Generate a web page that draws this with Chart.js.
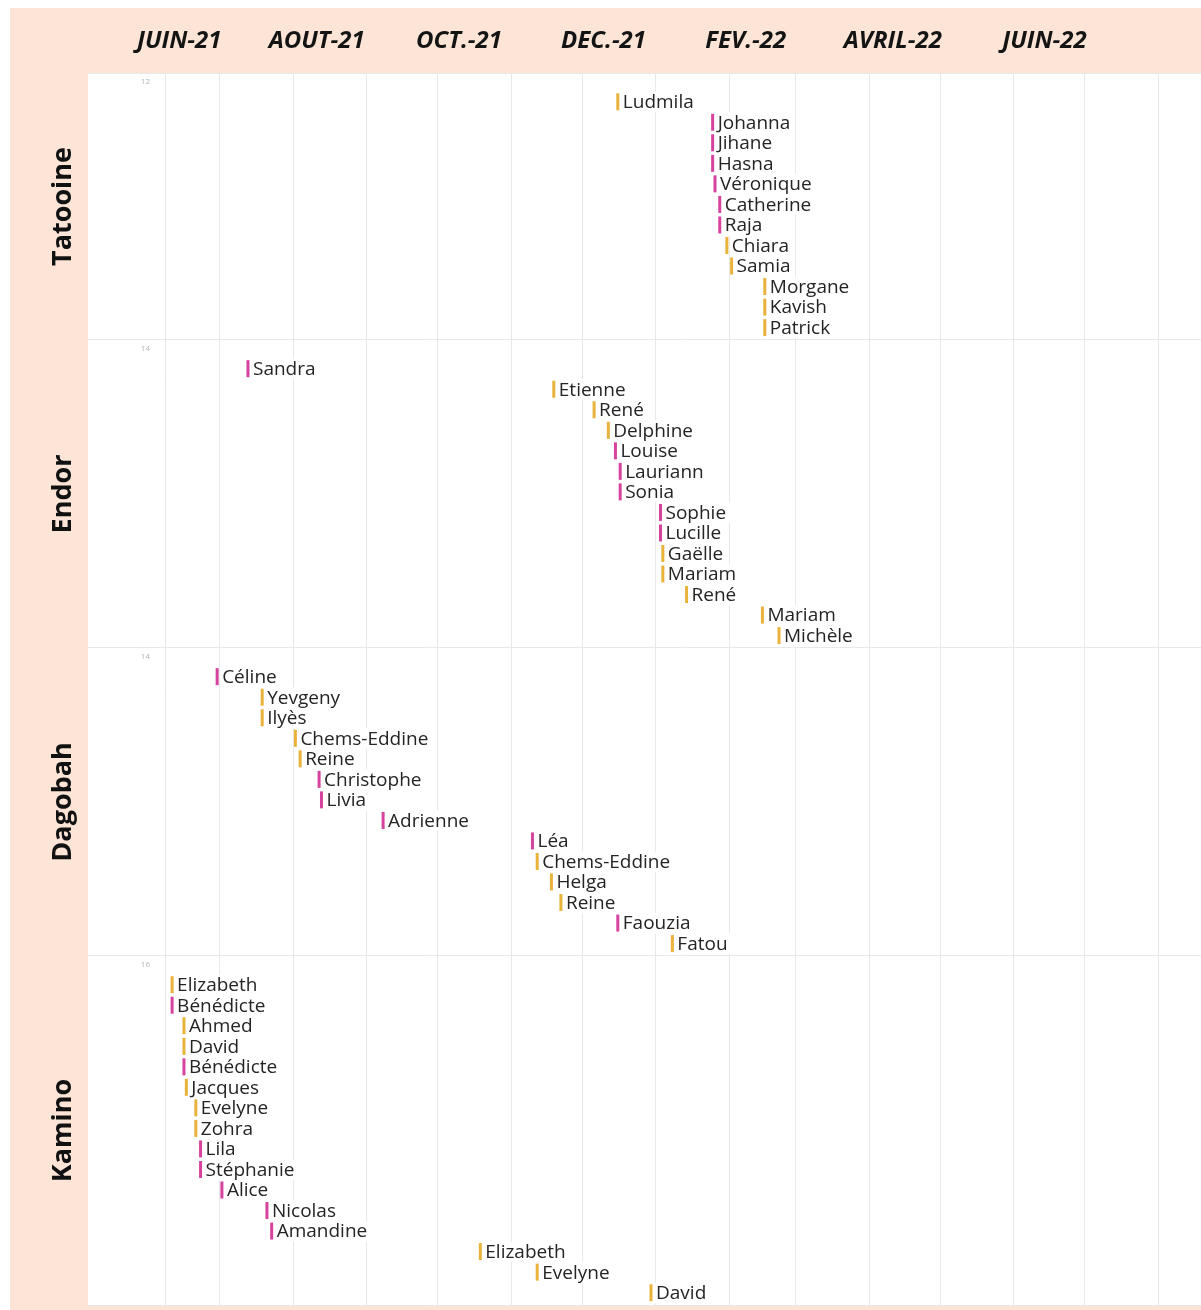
<!DOCTYPE html>
<html>
<head>
<meta charset="utf-8">
<script src="https://cdn.jsdelivr.net/npm/chart.js@4.4.1/dist/chart.umd.min.js"></script>
<style>
  body { margin: 0; background: #fff; }
  #wrap { position: absolute; left: 10px; top: 8px; width: 1191px; height: 1302px; background: #fce4d6; }
</style>
</head>
<body>
<div id="wrap"><canvas id="myChart"></canvas></div>
<script>
const panelNames = ['Tatooine', 'Endor', 'Dagobah', 'Kamino'];

const tatooineNames = ['Ludmila', 'Johanna', 'Jihane', 'Hasna', 'Véronique', 'Catherine', 'Raja', 'Chiara', 'Samia', 'Morgane', 'Kavish', 'Patrick'];
const tatooineDates = ['2021-12-16', '2022-01-25', '2022-01-25', '2022-01-25', '2022-01-26', '2022-01-28', '2022-01-28', '2022-01-31', '2022-02-02', '2022-02-16', '2022-02-16', '2022-02-16'];
const tatooineKinds = ['o', 'p', 'p', 'p', 'p', 'p', 'p', 'o', 'o', 'o', 'o', 'o'];

const endorNames = ['Sandra', 'Etienne', 'René', 'Delphine', 'Louise', 'Lauriann', 'Sonia', 'Sophie', 'Lucille', 'Gaëlle', 'Mariam', 'René', 'Mariam', 'Michèle'];
const endorDates = ['2021-07-13', '2021-11-19', '2021-12-06', '2021-12-12', '2021-12-15', '2021-12-17', '2021-12-17', '2022-01-03', '2022-01-03', '2022-01-04', '2022-01-04', '2022-01-14', '2022-02-15', '2022-02-22'];
const endorKinds = ['p', 'o', 'o', 'o', 'p', 'p', 'p', 'p', 'p', 'o', 'o', 'o', 'o', 'o'];

const dagobahNames = ['Céline', 'Yevgeny', 'Ilyès', 'Chems-Eddine', 'Reine', 'Christophe', 'Livia', 'Adrienne', 'Léa', 'Chems-Eddine', 'Helga', 'Reine', 'Faouzia', 'Fatou'];
const dagobahDates = ['2021-06-30', '2021-07-19', '2021-07-19', '2021-08-02', '2021-08-04', '2021-08-12', '2021-08-13', '2021-09-08', '2021-11-10', '2021-11-12', '2021-11-18', '2021-11-22', '2021-12-16', '2022-01-08'];
const dagobahKinds = ['p', 'o', 'o', 'o', 'o', 'p', 'p', 'p', 'p', 'o', 'o', 'o', 'p', 'o'];

const kaminoNames = ['Elizabeth', 'Bénédicte', 'Ahmed', 'David', 'Bénédicte', 'Jacques', 'Evelyne', 'Zohra', 'Lila', 'Stéphanie', 'Alice', 'Nicolas', 'Amandine', 'Elizabeth', 'Evelyne', 'David'];
const kaminoDates = ['2021-06-11', '2021-06-11', '2021-06-16', '2021-06-16', '2021-06-16', '2021-06-17', '2021-06-21', '2021-06-21', '2021-06-23', '2021-06-23', '2021-07-02', '2021-07-21', '2021-07-23', '2021-10-19', '2021-11-12', '2021-12-30'];
const kaminoKinds = ['o', 'p', 'o', 'o', 'p', 'o', 'o', 'o', 'p', 'p', 'p', 'p', 'p', 'o', 'o', 'o'];

// top header labels and grid (month starts)
const headerLabels = ['JUIN-21', 'AOUT-21', 'OCT.-21', 'DEC.-21', 'FEV.-22', 'AVRIL-22', 'JUIN-22'];
const headerDates = ['2021-06-14', '2021-08-11', '2021-10-10', '2021-12-10', '2022-02-08', '2022-04-11', '2022-06-14'];
const monthStarts = ['2021-07-01', '2021-08-01', '2021-09-01', '2021-10-01', '2021-11-01', '2021-12-01', '2022-01-01', '2022-02-01', '2022-03-01', '2022-04-01', '2022-05-01', '2022-06-01', '2022-07-01', '2022-08-01'];
const xMinDate = '2021-06-08';
const xMaxDate = '2022-08-19';

const PINK = '#d6439f';
const ORANGE = '#e9b23a';
const FONT = '"Open Sans", "Noto Sans", sans-serif';

const day = s => Date.UTC(+s.slice(0, 4), +s.slice(5, 7) - 1, +s.slice(8, 10)) / 86400000;

const panels = [
    [tatooineNames, tatooineDates, tatooineKinds],
    [endorNames, endorDates, endorKinds],
    [dagobahNames, dagobahDates, dagobahKinds],
    [kaminoNames, kaminoDates, kaminoKinds],
];

// panel edges on the y scale: each panel takes its row count + 1
const edges = [0];
panels.forEach(p => edges.push(edges[edges.length - 1] + p[0].length + 1));
const counts = panels.map(p => String(p[0].length));

const pinkPts = [];
const orangePts = [];
panels.forEach((p, pi) => {
    p[0].forEach((name, i) => {
        const pt = { x: day(p[1][i]), y: edges[pi] + 1.4 + i, name: name };
        (p[2][i] === 'p' ? pinkPts : orangePts).push(pt);
    });
});

const noPad = s => { s.paddingLeft = 0; s.paddingRight = 0; s.paddingTop = 0; s.paddingBottom = 0; };

const plotBg = {
    id: 'plotBg',
    beforeDraw(chart) {
        const { ctx, chartArea, scales } = chart;
        ctx.save();
        ctx.fillStyle = '#fff';
        ctx.fillRect(scales.y.left, chartArea.top, chartArea.right - scales.y.left, chartArea.bottom - chartArea.top);
        ctx.restore();
    }
};

const nameLabels = {
    id: 'nameLabels',
    beforeDatasetsDraw(chart) {
        const ctx = chart.ctx;
        ctx.save();
        ctx.font = '19px ' + FONT;
        ctx.fillStyle = '#fff';
        chart.data.datasets.forEach((ds, di) => {
            chart.getDatasetMeta(di).data.forEach((el, i) => {
                const w = ctx.measureText(ds.data[i].name).width;
                ctx.fillRect(el.x + 3, el.y - 10, w + 6, 20.5);
            });
        });
        ctx.restore();
    },
    afterDatasetsDraw(chart) {
        const ctx = chart.ctx;
        ctx.save();
        ctx.font = '19px ' + FONT;
        ctx.fillStyle = '#252423';
        ctx.textBaseline = 'middle';
        chart.data.datasets.forEach((ds, di) => {
            chart.getDatasetMeta(di).data.forEach((el, i) => {
                ctx.fillText(ds.data[i].name, el.x + 5, el.y + 1);
            });
        });
        ctx.restore();
    }
};

const panelTitles = {
    id: 'panelTitles',
    afterDraw(chart) {
        const ctx = chart.ctx;
        const y = chart.scales.y;
        ctx.save();
        ctx.font = 'bold 27px ' + FONT;
        ctx.fillStyle = '#111';
        ctx.textAlign = 'center';
        ctx.textBaseline = 'middle';
        panelNames.forEach((name, i) => {
            const py = y.getPixelForValue((edges[i] + edges[i + 1]) / 2);
            ctx.save();
            ctx.translate(y.left - 25, py);
            ctx.rotate(-Math.PI / 2);
            ctx.fillText(name, 0, 0);
            ctx.restore();
        });
        ctx.restore();
    }
};

const ctx = document.getElementById('myChart');

new Chart(ctx, {
    type: 'scatter',
    data: {
        datasets: [{
            label: 'rose',
            data: pinkPts,
            borderColor: PINK,
            backgroundColor: PINK,
        }, {
            label: 'orange',
            data: orangePts,
            borderColor: ORANGE,
            backgroundColor: ORANGE,
        }]
    },
    options: {
        responsive: true,
        maintainAspectRatio: false,
        animation: false,
        layout: { autoPadding: false, padding: { left: 78, right: 0, top: 0, bottom: 0 } },
        elements: {
            point: { pointStyle: 'line', rotation: 90, radius: 8.5, hoverRadius: 8.5, borderWidth: 3 }
        },
        plugins: {
            legend: { display: false },
            tooltip: { enabled: false }
        },
        scales: {
            x: {
                type: 'linear',
                position: 'bottom',
                min: day(xMinDate),
                max: day(xMaxDate),
                afterBuildTicks: s => { s.ticks = monthStarts.map(d => ({ value: day(d) })); },
                afterFit: s => { s.height = 5; noPad(s); },
                grid: { color: '#e8e8e8', drawTicks: false },
                border: { display: false },
                ticks: { display: false }
            },
            xTop: {
                type: 'linear',
                position: 'top',
                min: day(xMinDate),
                max: day(xMaxDate),
                afterBuildTicks: s => { s.ticks = headerDates.map(d => ({ value: day(d) })); },
                afterFit: s => { s.height = 65; noPad(s); },
                grid: { display: false, drawTicks: false },
                border: { display: false },
                ticks: {
                    autoSkip: false,
                    maxRotation: 0,
                    padding: 17,
                    color: '#141414',
                    font: { family: FONT, size: 24, weight: 'bold', style: 'italic' },
                    callback: (v, i) => headerLabels[i]
                }
            },
            y: {
                type: 'linear',
                min: 0,
                max: edges[edges.length - 1],
                reverse: true,
                afterBuildTicks: s => { s.ticks = edges.map(v => ({ value: v })); },
                afterFit: s => { s.width = 77; noPad(s); },
                grid: { color: '#e8e8e8', tickLength: 77 },
                border: { color: '#e8e8e8' },
                ticks: {
                    autoSkip: false,
                    padding: -62,
                    labelOffset: 9,
                    color: '#b5b5b5',
                    font: { family: FONT, size: 8 },
                    callback: (v, i) => counts[i] || ''
                }
            }
        }
    },
    plugins: [plotBg, nameLabels, panelTitles]
});
</script>
</body>
</html>
